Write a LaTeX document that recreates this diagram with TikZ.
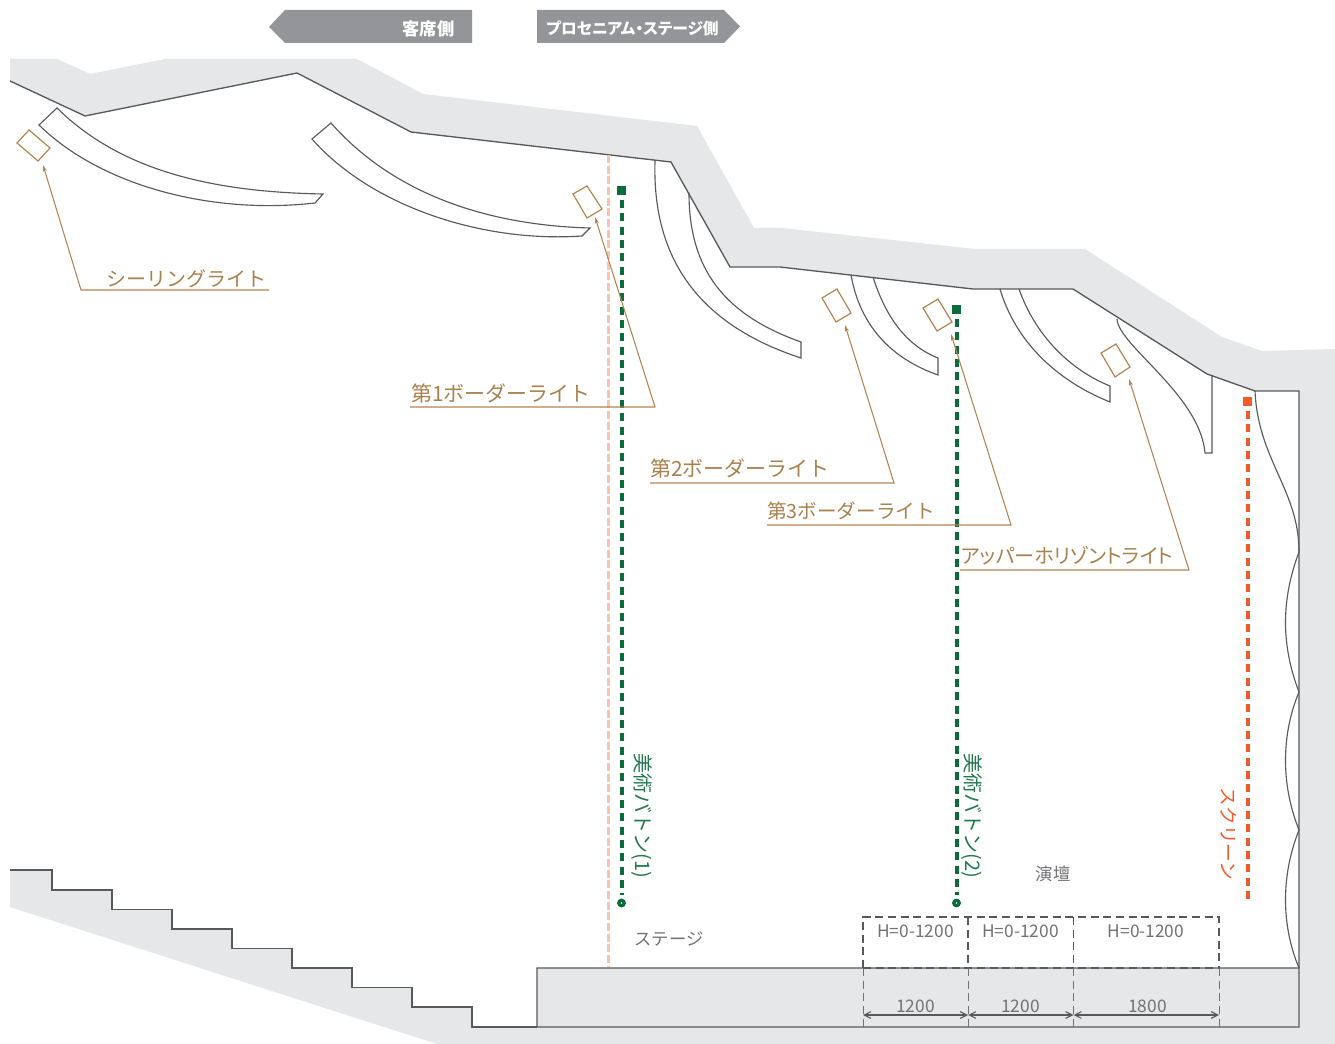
\documentclass[tikz,border=0pt]{standalone}
\usepackage{fontspec}
\setmainfont{Noto Sans CJK JP}
\newfontfamily\palt[RawFeature=+palt]{Noto Sans CJK JP}
\usetikzlibrary{arrows.meta}
\definecolor{wall}{HTML}{E6E7E8}
\definecolor{ink}{HTML}{58595B}
\definecolor{banner}{HTML}{939598}
\definecolor{lead}{HTML}{B58352}
\definecolor{leadtext}{HTML}{A9814F}
\definecolor{batten}{HTML}{0B6B3A}
\definecolor{scr}{HTML}{F15A29}
\definecolor{pinkline}{HTML}{F7C4B0}
\tikzset{
  px/.style={x=0.75pt,y=-0.75pt},
  struct/.style={draw=ink,line width=1pt,line join=miter},
  thinl/.style={draw=ink,line width=0.85pt},
  lamp/.style={draw=lead,line width=0.9pt},
  leader/.style={draw=lead,line width=0.8pt,-{Stealth[length=5pt,width=2.8pt]}},
  lbl/.style={text=leadtext,font=\fontsize{15}{15}\selectfont,inner sep=0pt,anchor=west},
  lblwide/.style={lbl,font=\fontsize{15.7}{15.7}\selectfont},
  gtext/.style={text=ink!85,font=\fontsize{13}{13}\selectfont,inner sep=0pt},
  bantext/.style={text=white,inner sep=0pt},
  vgreen/.style={text=batten!90,font=\fontsize{15}{15}\selectfont,inner sep=0pt,rotate=-90},
  vorange/.style={text=scr,font=\fontsize{14}{14}\selectfont,inner sep=0pt,rotate=-90},
  dashbox/.style={draw=ink,line width=0.9pt,dash pattern=on 6pt off 3.5pt},
  dashlow/.style={draw=ink!85,line width=0.7pt,dash pattern=on 6pt off 3.5pt},
  dim/.style={draw=ink,line width=0.8pt,{Straight Barb[length=5pt,width=5pt]}-{Straight Barb[length=5pt,width=5pt]}},
  battenl/.style={draw=batten,line width=3pt,dash pattern=on 6pt off 4pt},
  scrl/.style={draw=scr,line width=3pt,dash pattern=on 6pt off 4pt},
  pinkl/.style={draw=pinkline,line width=2.8pt,dash pattern=on 6pt off 2pt},
  battenend/.style={circle,draw=batten,line width=2.5pt,fill=white,inner sep=0pt,minimum size=4pt},
}
\begin{document}
\begin{tikzpicture}[px]
\useasboundingbox (0,0) rectangle (1335,1044);
\fill[white] (0,0) rectangle (1335,1044);
% ceiling and right wall
\fill[wall] (10,59) -- (57,59) -- (90,74) -- (165,59) -- (357,59) -- (423,94) -- (697,126) -- (754,228) -- (782,228) -- (975,249) -- (1085,249) -- (1222,337) -- (1262,351) -- (1335,349) -- (1335,1044) -- (1299,1044) -- (1299,391) -- (1255,391) -- (1207,374) -- (1073,289) -- (973,289) -- (780,267) -- (730,267) -- (671,162) -- (411,132) -- (297,73) -- (85,116) -- (10,81) -- cycle;
% floor
\fill[wall] (10,870) -- (52,870) -- (52,890) -- (112,890) -- (112,909.5) -- (172,909.5) -- (172,929) -- (232,929) -- (232,948.5) -- (292,948.5) -- (292,968) -- (352,968) -- (352,987.5) -- (412,987.5) -- (412,1007) -- (472,1007) -- (472,1027) -- (537,1027) -- (537,968) -- (1299,968) -- (1299,1027) -- (1335,1027) -- (1335,1044) -- (437,1044) -- (10,907) -- cycle;
% structure lines
\draw[struct] (10,81) -- (85,116) -- (297,73) -- (411,132) -- (671,162) -- (730,267) -- (780,267) -- (973,289) -- (1073,289) -- (1207,374) -- (1255,391) -- (1299,391) -- (1299,1027) -- (537,1027) -- (537,968) -- (1299,968);
\draw[struct] (10,870) -- (52,870) -- (52,890) -- (112,890) -- (112,909.5) -- (172,909.5) -- (172,929) -- (232,929) -- (232,948.5) -- (292,948.5) -- (292,968) -- (352,968) -- (352,987.5) -- (412,987.5) -- (412,1007) -- (472,1007) -- (472,1027) -- (537,1027);
% reflector panels
\draw[thinl] (57,108) .. controls (120,170) and (210,192) .. (323,194) -- (315,203) .. controls (210,215) and (100,185) .. (39,125) -- cycle;
\draw[thinl] (331,123) .. controls (390,190) and (480,225) .. (590,228) -- (582,236) .. controls (480,243) and (370,205) .. (312,139) -- cycle;
\draw[thinl] (655,161) .. controls (652,260) and (700,325) .. (801,358) -- (801,342) .. controls (725,315) and (689,270) .. (689,193);
\draw[thinl] (851,275) .. controls (860,325) and (890,358) .. (938,375) -- (938,358) .. controls (905,345) and (885,315) .. (873,277);
\draw[thinl] (1000,289) .. controls (1015,340) and (1055,380) .. (1110,402) -- (1110,386) .. controls (1070,370) and (1035,335) .. (1019,289);
\draw[thinl] (1117,319) .. controls (1118,345) and (1200,395) .. (1205,453) -- (1212,453) -- (1212,375);
% curtain
\draw[thinl] (1255,391) .. controls (1258,460) and (1299,490) .. (1299,552) .. controls (1281,600) and (1281,645) .. (1299,692) .. controls (1281,735) and (1281,785) .. (1299,830) .. controls (1281,875) and (1281,925) .. (1299,968);
% lines
\draw[pinkl] (608.5,155) -- (608.5,967);
\fill[batten] (617,186) rectangle (626,195);
\coordinate (b1top) at (621.5,200);
\node[battenend] (b1end) at (621.5,903) {};
\draw[battenl] (b1top) -- (621.5,895);
\fill[batten] (952,305) rectangle (961,314);
\coordinate (b2top) at (956.5,319);
\node[battenend] (b2end) at (956.5,903) {};
\draw[battenl] (b2top) -- (956.5,895);
\fill[scr] (1243,397) rectangle (1252,406);
\draw[scrl] (1247.5,411) -- (1247.5,903);
% lamps
\draw[lamp] (29,130) -- (50,148) -- (38,161) -- (17,143) -- cycle;
\draw[lamp] (587,186) -- (602,209) -- (587,218) -- (573,194) -- cycle;
\draw[lamp] (837,289) -- (851,313) -- (836,322) -- (822,298) -- cycle;
\draw[lamp] (938,299) -- (952,322) -- (937,331) -- (923,308) -- cycle;
\draw[lamp] (1116,344) -- (1130,367) -- (1115,377) -- (1101,353) -- cycle;
% leaders
\coordinate (t0) at (43,165); \coordinate (t1) at (595,217); \coordinate (t2) at (845,325); \coordinate (t3) at (951,334); \coordinate (t4) at (1129,379);
\draw[leader] (269,290) -- (81,290) -- (t0);
\draw[leader] (410,407) -- (655,407) -- (t1);
\draw[leader] (650,483) -- (894,483) -- (t2);
\draw[leader] (767,525) -- (1011,525) -- (t3);
\draw[leader] (960,570) -- (1189,570) -- (t4);
\node[lbl] (l0) at (106,279) {シーリングライト};
\node[lblwide] (l1) at (411,393) {第1ボーダーライト};
\node[lblwide] (l2) at (650,468) {第2ボーダーライト};
\node[lbl,font=\fontsize{14.7}{14.7}\selectfont] (l3) at (767,511) {第3ボーダーライト};
\node[lbl,font=\palt\fontsize{15.1}{15.1}\selectfont] (l4) at (961,556) {アッパーホリゾントライト};
% banners
\fill[banner] (269,27) -- (285,10) -- (472,10) -- (472,43) -- (285,43) -- cycle;
\fill[banner] (537,10) -- (724,10) -- (740,26.5) -- (724,43) -- (537,43) -- cycle;
\node[bantext,font=\bfseries\fontsize{13}{13}\selectfont] (ban1) at (428.5,28.5) {客席側};
\node[bantext,font=\bfseries\palt\fontsize{11.8}{11.8}\selectfont] (ban2) at (632.5,28.5) {プロセニアム・ステージ側};
% vertical labels
\node[vgreen] (v1) at (642,816) {美術バトン(1)};
\node[vgreen] (v2) at (972,816) {美術バトン(2)};
\node[vorange] (v3) at (1229,834) {スクリーン};
% grey labels
\node[gtext] (stage) at (669,939) {ステージ};
\node[gtext] (podium) at (1053,874) {演壇};
\node[gtext] (h1) at (915.5,931) {H=0-1200};
\node[gtext] (h2) at (1020.5,931) {H=0-1200};
\node[gtext] (h3) at (1146,931) {H=0-1200};
\node[gtext] (w1) at (915.5,1006) {1200};
\node[gtext] (w2) at (1020.5,1006) {1200};
\node[gtext] (w3) at (1147.5,1006) {1800};
% dashed box
\draw[dashbox] (863,968) -- (863,917) -- (1219,917) -- (1219,968);
\draw[dashbox] (863,968) -- (1219,968);
\draw[dashbox] (968,917) -- (968,968);
\draw[dashbox] (1073.5,917) -- (1073.5,968);
\draw[dashlow] (863,968) -- (863,1027);
\draw[dashlow] (968,968) -- (968,1027);
\draw[dashlow] (1073.5,968) -- (1073.5,1027);
\draw[dashlow] (1219,968) -- (1219,1027);
\draw[dim] (863,1015) -- (968,1015);
\draw[dim] (968,1015) -- (1073.5,1015);
\draw[dim] (1073.5,1015) -- (1219,1015);
\end{tikzpicture}
\end{document}
